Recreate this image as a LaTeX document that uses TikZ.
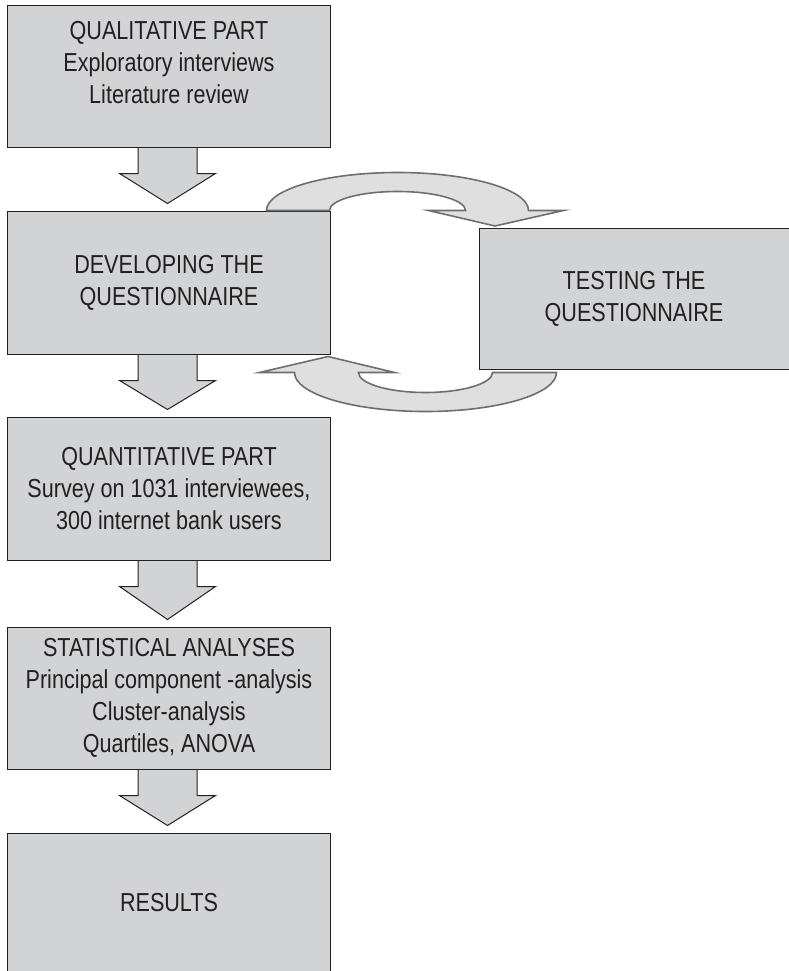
\documentclass[tikz,border=0pt]{standalone}
\usepackage{fontspec}
\setmainfont{Liberation Sans}[FakeStretch=0.83]
\usetikzlibrary{calc}
\definecolor{boxfill}{HTML}{D1D3D4}
\definecolor{boxline}{HTML}{231F20}
\definecolor{loopfill}{HTML}{DFDFDF}
\definecolor{loopline}{HTML}{6D6E70}
\definecolor{txt}{HTML}{231F20}
\begin{document}
\begin{tikzpicture}[x=1pt,y=1pt,
  box/.style={draw=boxline, fill=boxfill, line width=1pt, inner sep=0pt,
    align=center, text=txt, font=\fontsize{26}{32}\selectfont},
  downarrow/.style={draw=boxline, fill=boxfill, line width=1pt, line join=miter},
  looparrow/.style={draw=loopline, fill=loopfill, line width=1.6pt, line join=miter}]
\useasboundingbox (0,0) rectangle (789,-971);
% boxes
\node[box, minimum width=323, minimum height=141] (qual) at (169,-76.5)
  {QUALITATIVE PART\\Exploratory interviews\\Literature review\rule[-29pt]{0pt}{29pt}};
\node[box, minimum width=323, minimum height=143] (dev) at (169,-282.5)
  {DEVELOPING THE\\QUESTIONNAIRE};
\node[box, minimum width=310, minimum height=141] (test) at (634,-298.5)
  {TESTING THE\\QUESTIONNAIRE};
\node[box, minimum width=323, minimum height=143] (quant) at (169,-488.5)
  {QUANTITATIVE PART\\Survey on 1031 interviewees,\\300 internet bank users};
\node[box, minimum width=323, minimum height=142] (stat) at (169,-698)
  {STATISTICAL ANALYSES\\Principal component -analysis\\Cluster-analysis\\Quartiles, ANOVA};
\node[box, minimum width=323, minimum height=139] (res) at (169,-902.5)
  {RESULTS};
% down block arrows
\foreach \a/\b in {qual/dev, dev/quant, quant/stat, stat/res}{
  \draw[downarrow] ($(\a.south)+(-31,-0.5)$) -- ($(\a.south)+(-31,-26)$)
    -- ($(\a.south)+(-49.5,-26)$) -- ($(\b.north)+(-1.5,7)$)
    -- ($(\a.south)+(46.5,-26)$) -- ($(\a.south)+(28,-26)$)
    -- ($(\a.south)+(28,-0.5)$);
}
% loop arrows
\coordinate (u0) at ($(dev.north east)+(-64.5,0)$);
\coordinate (utip) at ($(test.north west)+(16.5,1.5)$);
\draw[looparrow] (u0) arc (180:0:131 and 38) -- ($(u0)+(297,0)$) -- (utip)
  -- ($(u0)+(162,0)$) -- ($(u0)+(199,0)$) arc (0:180:68 and 19) -- cycle;
\coordinate (l0) at ($(test.south west)+(78,-3)$);
\coordinate (ltip) at ($(dev.south east)+(-3,-2)$);
\draw[looparrow] (l0) arc (0:-180:131 and 39) -- ($(l0)+(-297,0)$) -- (ltip)
  -- ($(l0)+(-162,0)$) -- ($(l0)+(-198,0)$) arc (180:360:67 and 20) -- cycle;
\end{tikzpicture}
\end{document}
